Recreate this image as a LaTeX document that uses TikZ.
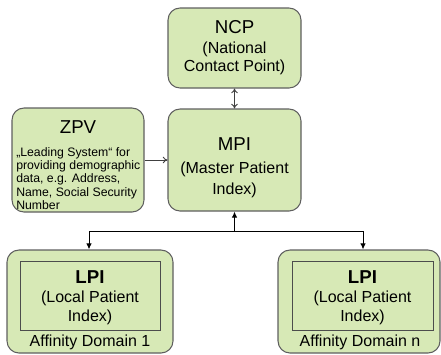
\documentclass[tikz,border=0pt]{standalone}
\usepackage{fontspec}
\setmainfont{Liberation Sans}
\usetikzlibrary{arrows.meta}
\definecolor{boxfill}{RGB}{215,233,182}
\definecolor{boxline}{RGB}{95,95,95}
\begin{document}
\begin{tikzpicture}[x=0.75pt,y=-0.75pt,
  rbox/.style={draw=boxline, fill=boxfill, rounded corners=9pt, line width=0.8pt, inner sep=0pt},
  ibox/.style={draw=boxline!80!black, fill=boxfill, line width=0.6pt, inner sep=0pt},
  ttl/.style={font=\fontsize{14}{16}\selectfont, inner sep=0pt},
  sub/.style={font=\fontsize{12}{#1}\selectfont, align=center, inner sep=0pt},
  sub/.default={13.5pt},
  conn/.style={line width=0.7pt, draw=black!75},
  openhead/.style={-{To[length=3.5pt,width=5pt]}},
  fillhead/.style={-{Latex[length=4.5pt,width=4pt]}}]
\useasboundingbox (0,0) rectangle (441,354);
% boxes
\node[rbox, minimum width=99.75pt, minimum height=60pt] (ncp) at (234.5,48) {};
\node[rbox, minimum width=99.75pt, minimum height=76.5pt] (mpi) at (234.5,160) {};
\node[rbox, minimum width=99pt, minimum height=78pt] (zpv) at (78,160) {};
\node[rbox, minimum width=124.5pt, minimum height=77.25pt] (ad1) at (90,301.5) {};
\node[rbox, minimum width=121.5pt, minimum height=77.25pt] (adn) at (359,301.5) {};
\node[ibox, minimum width=105pt, minimum height=51.75pt] (lpi1) at (90,295.5) {};
\node[ibox, minimum width=105.75pt, minimum height=51.75pt] (lpin) at (362.5,295.5) {};
% texts
\node[ttl] (ncpT) at (234.5,27) {NCP};
\node[sub] (ncpS) at (234.5,58) {(National\\Contact Point)};
\node[ttl] (mpiT) at (234.5,144) {MPI};
\node[sub=15.75pt] (mpiS) at (234.5,179.5) {(Master Patient\\Index)};
\node[ttl] (zpvT) at (78,127) {ZPV};
\node[font=\fontsize{9.2}{10}\selectfont, align=left, inner sep=0pt, anchor=west] (zpvS) at (16,178.5)
  {„Leading System“ for\\providing demographic\\data, e.g. Address,\\Name, Social Security\\Number};
\node[ttl, font=\fontsize{14}{16}\selectfont\bfseries] (lpi1T) at (90,277) {LPI};
\node[sub=14.25pt] (lpi1S) at (90,307.5) {(Local Patient\\Index)};
\node[sub] (ad1L) at (90,342) {Affinity Domain 1};
\node[ttl, font=\fontsize{14}{16}\selectfont\bfseries] (lpinT) at (362.5,277) {LPI};
\node[sub=14.25pt] (lpinS) at (362.5,307.5) {(Local Patient\\Index)};
\node[sub] (adnL) at (360,342) {Affinity Domain n};
% connectors
\draw[conn, {To[length=3.5pt,width=5pt]}-{To[length=3.5pt,width=5pt]}] (ncp.south) -- (mpi.north);
\draw[conn, openhead] (zpv.east) -- (mpi.west);
\coordinate (j) at (234.5,231);
\coordinate (jl) at (89,231);
\coordinate (jr) at (363,231);
\draw[conn, fillhead, draw=black] (j) -- (mpi.south);
\draw[conn, draw=black] (jl) -- (jr);
\draw[conn, fillhead, draw=black] (jl) -- (jl |- ad1.north);
\draw[conn, fillhead, draw=black] (jr) -- (jr |- adn.north);
\end{tikzpicture}
\end{document}
